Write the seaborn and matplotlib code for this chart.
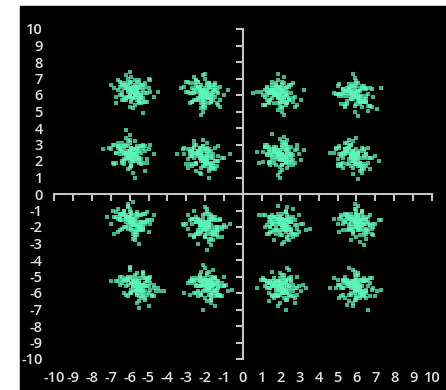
import numpy as np
import pandas as pd
import matplotlib
matplotlib.use("Agg")
import matplotlib.pyplot as plt
from matplotlib.patches import Rectangle
import seaborn as sns

# cluster centres (row by row, top to bottom)
center_x = [-5.8, -2.1, 1.85, 5.9,
            -6.0, -2.2, 1.95, 5.8,
            -5.9, -2.0, 2.05, 6.0,
            -5.6, -1.9, 1.95, 5.9]
center_y = [6.2, 6.1, 6.0, 5.95,
            2.4, 2.2, 2.35, 2.2,
            -1.7, -2.0, -1.9, -1.8,
            -5.6, -5.6, -5.7, -5.7]

# point offsets from each centre, estimated from the scatter
dx = [
    [0.1, -0.3, 0.5, -0.1, 0.2, -0.6, 0.0, 0.3, -0.2, 0.8, -0.4, 0.1,
     -0.1, 0.4, -0.7, 0.2, 0.0, -0.3, 0.6, -0.1, 0.3, -0.5, 0.1, -0.9,
     0.2, -0.2, 0.4, 0.0, -0.4, 1.1, -0.1, 0.2, -0.6, 0.3, 0.1, -0.2,
     0.5, -0.8, 0.0, 0.2, -0.3, 0.7, -0.1, 0.1, -1.2, 0.4, -0.2, 0.0,
     0.3, -0.5, 0.1, 0.9, -0.1, -0.3, 0.2, 0.6, -0.4, 0.0, 0.1, -0.7,
     0.3, -0.2, 1.3, -0.1, 0.5, -0.6, 0.2, 0.0, -0.3, 0.4, -1.0, 0.1],
    [0.3, -0.1, 0.6, -0.4, 0.0, 0.2, -0.7, 0.1, 0.4, -0.2, 0.9, -0.5,
     0.0, 0.3, -0.1, -0.9, 0.2, 0.5, -0.3, 0.1, -0.6, 0.7, 0.0, -0.2,
     0.4, -1.0, 0.1, 0.3, -0.4, 0.2, 0.8, -0.1, -0.5, 0.0, 1.1, -0.3,
     0.2, -0.1, 0.5, -0.7, 0.1, 0.3, -0.2, 0.0, 0.6, -1.2, 0.4, -0.1,
     0.2, -0.3, 0.0, 0.7, -0.6, 0.1, 0.3, -0.4, 0.9, -0.2, 0.1, 0.5,
     -0.8, 0.0, 0.2, -0.1, 1.3, -0.5, 0.4, -0.3, 0.1, 0.0, -0.2, 0.6],
    [-0.2, 0.4, 0.0, -0.6, 0.3, 0.1, -0.3, 0.8, -0.1, 0.5, -0.9, 0.2,
     0.1, -0.4, 0.6, 0.0, -0.2, 1.0, -0.5, 0.3, -0.1, 0.2, -0.7, 0.4,
     0.0, -0.3, 0.1, 0.7, -1.1, 0.2, -0.1, 0.5, 0.3, -0.6, 0.0, 0.9,
     -0.2, 0.1, -0.4, 0.6, 0.2, -0.8, 0.0, 0.3, -0.1, 1.2, -0.5, 0.1,
     0.4, -0.2, 0.0, -0.7, 0.5, 0.2, -0.3, 0.1, 0.8, -1.3, 0.3, -0.1,
     0.0, 0.6, -0.4, 0.2, -0.2, 0.4, -0.6, 0.1, 1.4, -0.3, 0.0, 0.2],
    [0.2, -0.5, 0.1, 0.6, -0.2, 0.0, 0.4, -0.8, 0.3, -0.1, 0.7, -0.3,
     0.0, 1.0, -0.6, 0.2, 0.1, -0.4, 0.5, -0.1, -0.9, 0.3, 0.0, 0.8,
     -0.2, 0.4, -0.5, 0.1, 1.2, -0.3, 0.2, 0.0, -0.7, 0.6, -0.1, 0.3,
     -1.1, 0.1, 0.5, -0.2, 0.0, 0.9, -0.4, 0.2, -0.1, 0.3, -0.6, 0.7,
     0.1, -0.3, 0.4, 0.0, -0.8, 0.2, 1.4, -0.1, 0.5, -0.2, 0.0, -0.5,
     0.3, 0.6, -0.3, 0.1, -1.0, 0.4, 0.0, -0.2, 0.8, 0.2, -0.4, 0.1],
    [0.1, 0.5, -0.3, 0.0, 0.7, -0.5, 0.2, -0.1, 0.4, -0.8, 0.3, 0.0,
     -0.2, 0.6, -1.0, 0.1, 0.3, -0.4, 0.9, -0.1, 0.2, -0.6, 0.0, 0.5,
     -1.4, 0.3, -0.2, 0.1, 0.8, -0.3, 0.0, 0.4, -0.7, 0.2, 1.1, -0.1,
     0.3, -0.5, 0.0, 0.6, -0.2, 0.1, -0.9, 0.4, 0.2, -0.4, 0.7, 0.0,
     -0.1, 1.3, -0.6, 0.2, 0.0, -0.3, 0.5, 0.1, -1.1, 0.3, -0.2, 0.8,
     0.0, -0.5, 0.2, 0.4, -0.1, -0.7, 0.1, 0.6, -0.3, 0.0, 1.0, -0.2],
    [-0.3, 0.2, 0.0, 0.6, -0.5, 0.1, 0.4, -0.2, 0.9, -0.7, 0.3, -0.1,
     0.2, 0.0, -0.4, 0.7, -1.0, 0.5, 0.1, -0.3, 0.3, -0.1, 0.8, 0.0,
     -0.6, 0.2, 0.4, -0.2, 1.1, -0.4, 0.0, 0.6, -0.8, 0.1, 0.3, -0.5,
     0.2, -0.1, 0.0, 0.5, -1.3, 0.7, 0.3, -0.2, 0.1, -0.6, 0.4, 1.2,
     0.0, -0.3, 0.2, -0.9, 0.5, 0.1, -0.1, 0.6, -0.4, 0.3, 0.0, -0.7,
     0.9, 0.2, -0.2, 0.4, -0.5, 1.5, 0.1, -0.3, 0.0, 0.3, -0.1, 0.2],
    [0.0, 0.4, -0.2, 0.1, -0.6, 0.7, 0.2, -0.4, 0.3, -0.1, 1.0, -0.8,
     0.1, -0.3, 0.5, 0.0, 0.2, -0.5, -1.1, 0.6, -0.2, 0.3, 0.1, -0.7,
     0.4, 0.0, 0.9, -0.1, -0.4, 0.2, 0.5, -0.3, 0.0, 1.3, -0.6, 0.1,
     -0.2, 0.3, -0.9, 0.4, 0.1, 0.0, -0.5, 0.7, 0.2, -0.1, 0.6, -1.2,
     0.3, -0.3, 0.0, 0.8, -0.2, 0.1, 0.4, -0.7, 0.2, -0.4, 0.5, 0.0,
     -0.1, 0.3, -0.6, 1.1, 0.1, -0.2, 0.6, 0.0, -0.3, 0.2, -0.8, 0.4],
    [0.3, -0.2, 0.1, -0.6, 0.5, 0.0, 0.8, -0.3, 0.2, -1.0, 0.4, -0.1,
     0.0, 0.6, -0.4, 0.2, 1.2, -0.7, 0.1, 0.3, -0.2, 0.0, -0.5, 0.9,
     0.4, -0.1, 0.2, -0.8, 0.0, 0.5, -0.3, 0.7, 0.1, -0.6, 0.3, -1.2,
     0.2, 0.0, 0.6, -0.4, 1.0, -0.1, 0.3, -0.2, 0.1, -0.7, 0.4, 0.0,
     -0.5, 0.8, 0.2, -0.1, -0.9, 0.5, 0.0, 0.3, -0.3, 0.1, 1.4, -0.2,
     0.6, -0.4, 0.0, 0.2, -0.6, 0.4, 0.1, -0.1, 0.7, -0.8, 0.3, 0.0],
    [0.2, -0.1, 0.5, -0.4, 0.0, 0.8, -0.6, 0.3, 0.1, -0.2, -1.1, 0.4,
     0.6, 0.0, -0.3, 0.2, -0.8, 0.1, 0.9, -0.5, 0.3, -0.1, 0.0, 0.4,
     -0.7, 1.2, 0.2, -0.2, 0.5, -0.4, 0.1, 0.0, 0.7, -1.3, 0.3, -0.1,
     0.2, -0.6, 0.4, 0.0, -0.3, 0.6, 1.0, -0.2, 0.1, -0.9, 0.3, 0.0,
     -0.5, 0.2, 0.8, -0.1, 0.4, -0.7, 0.0, 0.1, -0.4, 0.5, 0.3, -0.2,
     1.1, -0.6, 0.0, 0.2, -0.1, 0.7, -0.3, 0.4, -1.0, 0.1, 0.6, -0.2],
    [-0.1, 0.3, 0.0, -0.5, 0.6, 0.2, -0.3, 0.9, -0.7, 0.1, 0.4, -0.2,
     0.0, -1.0, 0.5, 0.2, -0.4, 0.1, 0.7, -0.1, 0.3, -0.6, 1.1, 0.0,
     -0.2, 0.4, -0.8, 0.1, 0.2, -0.3, 0.6, 0.0, -1.2, 0.3, -0.1, 0.8,
     0.5, -0.4, 0.1, 0.0, -0.6, 0.2, 0.4, -0.2, 1.3, -0.9, 0.3, 0.1,
     0.0, -0.5, 0.6, -0.1, 0.2, -0.3, 0.9, 0.4, -0.7, 0.0, 0.1, -0.2,
     0.5, -1.1, 0.3, 0.0, 0.7, -0.4, 0.2, -0.1, 0.1, 1.0, -0.6, 0.3],
    [0.4, -0.3, 0.1, 0.0, -0.6, 0.7, 0.2, -0.1, 0.5, -0.9, 0.3, -0.4,
     1.0, 0.0, -0.2, 0.6, 0.1, -0.7, 0.3, -0.1, 0.8, -0.5, 0.2, 0.0,
     -1.2, 0.4, 0.1, -0.3, 0.6, 0.2, -0.1, 1.3, -0.5, 0.0, 0.3, -0.8,
     0.1, 0.5, -0.2, 0.0, 0.9, -0.4, 0.2, -0.6, 0.4, 0.1, -1.0, 0.7,
     -0.1, 0.3, 0.0, -0.3, 0.2, 1.1, -0.7, 0.5, -0.2, 0.1, 0.0, -0.5,
     0.6, 0.3, -0.4, 0.2, -0.1, 0.8, -0.6, 0.0, 0.4, -0.2, 0.1, 1.5],
    [0.1, -0.4, 0.6, 0.0, 0.3, -0.2, -0.8, 0.5, 0.2, -0.1, 0.9, -0.5,
     0.0, 0.4, -0.3, 0.1, 1.2, -0.6, 0.2, 0.0, -0.1, 0.7, -1.0, 0.3,
     -0.2, 0.5, 0.1, -0.4, 0.0, 0.8, -0.7, 0.2, 0.4, -0.1, 0.0, -0.3,
     0.6, 1.0, -0.5, 0.1, 0.3, -0.2, 0.0, -0.9, 0.4, 0.2, -0.6, 0.7,
     -0.1, 0.1, 0.5, -0.3, 1.3, 0.0, -0.4, 0.2, -0.2, 0.3, 0.6, -0.7,
     0.0, -1.2, 0.4, 0.1, -0.1, 0.2, 0.9, -0.5, 0.3, 0.0, -0.3, 0.1],
    [-0.2, 0.3, 0.0, 0.6, -0.5, 0.1, -0.8, 0.4, 0.2, -0.1, 1.0, -0.3,
     0.0, 0.5, -0.6, 0.2, -1.1, 0.3, 0.1, 0.7, -0.2, 0.0, -0.4, 0.9,
     0.1, -0.7, 0.4, -0.1, 0.2, 1.2, -0.3, 0.0, 0.6, -0.5, -1.4, 0.3,
     0.1, -0.2, 0.8, 0.0, -0.4, 0.2, 0.5, -0.9, 0.1, -0.1, 0.3, 0.7,
     -0.6, 0.0, 0.2, -0.3, 1.1, 0.4, -0.1, 0.1, -0.8, 0.3, 0.0, -0.2,
     0.5, 0.2, -1.0, 0.6, 0.0, -0.4, 0.1, 0.9, -0.2, 0.3, -0.5, 1.4],
    [0.3, 0.0, -0.4, 0.7, -0.1, 0.2, -0.6, 0.5, 0.1, -0.3, 0.0, 0.9,
     -0.8, 0.2, 0.4, -0.2, 1.1, 0.0, -0.5, 0.3, 0.1, -1.0, 0.6, -0.1,
     0.2, 0.0, -0.3, 0.8, -0.7, 0.4, 0.1, -0.2, 0.5, 1.3, -0.4, 0.0,
     -0.1, 0.3, -0.9, 0.2, 0.6, 0.0, -0.5, 0.1, 0.4, -0.2, 1.0, -0.6,
     0.2, -0.1, 0.0, 0.7, -0.3, 0.3, -1.2, 0.1, 0.5, -0.4, 0.0, 0.2,
     -0.7, 0.9, 0.1, -0.1, 0.4, -0.3, 0.0, 0.6, -0.8, 0.2, 0.3, -0.2],
    [0.0, -0.5, 0.2, 0.6, -0.2, 0.4, -0.9, 0.1, 0.3, -0.3, 0.8, 0.0,
     -0.6, 0.2, 1.1, -0.1, 0.5, -0.4, 0.0, 0.3, -1.2, 0.7, 0.1, -0.2,
     0.4, -0.7, 0.0, 0.2, 0.9, -0.1, -0.4, 0.6, 0.1, -0.8, 0.3, 1.4,
     -0.3, 0.0, 0.5, -0.1, 0.2, -0.6, 0.4, 1.0, 0.0, -0.2, 0.1, -1.0,
     0.7, 0.3, -0.4, 0.0, 0.2, -0.1, 0.6, -0.5, 0.1, 1.2, -0.3, 0.4,
     0.0, -0.7, 0.2, 0.5, -0.2, 0.1, 0.8, -0.6, 0.0, 0.3, -0.1, 0.9],
    [-0.1, 0.4, 0.1, -0.6, 0.3, 0.0, 0.7, -0.3, 0.2, -1.0, 0.5, -0.2,
     0.0, 0.9, -0.4, 0.1, -0.7, 0.3, 0.6, -0.1, 0.2, 1.2, -0.5, 0.0,
     0.4, -0.2, -0.9, 0.1, 0.8, 0.0, -0.3, 0.5, 0.2, -0.6, 1.4, -0.1,
     0.3, 0.0, -0.4, 0.6, -1.3, 0.2, 0.1, -0.2, 0.7, 0.4, -0.5, 0.0,
     1.0, -0.1, 0.3, -0.8, 0.2, 0.0, -0.3, 0.5, 0.1, -0.6, 0.4, -0.1,
     0.8, 0.0, -0.2, 0.3, -1.1, 0.6, 0.1, -0.4, 0.2, 0.0, 1.1, -0.7],
]
dy = [
    [-0.2, 0.4, 0.1, -0.5, 0.3, 0.0, -0.1, 0.7, -0.3, 0.2, 0.5, -0.8,
     0.1, -0.2, 0.3, 0.6, -0.4, 0.0, -0.1, 0.9, -0.6, 0.2, 0.4, -0.3,
     0.0, 0.5, -0.1, -1.0, 0.2, -0.3, 0.6, 0.1, -0.2, -0.7, 0.3, 1.2,
     -0.4, 0.1, 0.2, -0.5, 0.8, -0.1, 0.0, 0.3, 0.4, -0.2, -0.9, 0.1,
     0.5, -0.3, 0.7, 0.0, -0.6, 0.2, -0.1, 0.3, 1.0, -0.4, 0.1, -0.2,
     -0.5, 0.6, 0.0, 0.2, -1.3, 0.4, -0.1, 0.3, 0.1, -0.7, 0.2, -0.3],
    [0.5, -0.1, 0.2, 0.8, -0.4, 0.1, -0.6, 0.3, 0.0, -0.2, 0.4, 1.0,
     -0.3, 0.6, -0.9, 0.1, 0.2, -0.1, 0.7, -0.5, 0.0, 0.3, -1.1, 0.2,
     -0.2, 0.4, 0.9, -0.6, 0.1, -0.3, 0.0, 0.5, 0.2, -0.8, -0.1, 0.3,
     0.6, -0.4, 0.1, 0.0, 1.2, -0.2, 0.4, -0.7, 0.2, 0.3, -0.1, -1.3,
     0.0, 0.7, -0.5, 0.1, 0.3, -0.2, 0.6, 0.8, -0.4, 0.0, -0.9, 0.2,
     0.1, -0.3, 0.5, -0.6, 0.2, 0.0, -0.1, 0.4, -0.7, 1.1, 0.3, -0.2],
    [0.3, 0.0, -0.5, 0.2, 0.7, -0.2, 0.1, -0.4, 0.6, -0.1, 0.2, -0.8,
     0.4, 0.1, -0.3, 0.9, 0.0, -0.6, 0.2, -0.1, 0.5, -1.0, 0.3, 0.0,
     -0.2, 0.8, -0.4, 0.1, 0.2, -0.7, 0.4, 0.0, 1.1, -0.3, 0.5, -0.1,
     0.1, -0.5, 0.3, -0.2, 0.6, 0.0, -0.9, 0.2, 0.7, -0.3, 0.1, 0.4,
     -0.6, 0.0, 1.3, -0.1, 0.2, -0.4, 0.3, 0.5, -0.2, 0.1, -1.2, 0.0,
     0.4, -0.3, 0.2, 0.8, -0.5, 0.1, 0.0, -0.7, 0.3, 0.6, -0.1, 0.2],
    [-0.1, 0.3, 0.6, -0.4, 0.0, 0.2, -0.7, 0.1, 0.5, -0.2, -0.9, 0.4,
     0.2, -0.1, 0.0, 0.8, -0.5, 0.3, -0.2, 0.7, 0.1, -0.3, 1.1, -0.6,
     0.4, 0.0, 0.2, -0.1, -0.8, 0.5, 0.3, -1.0, 0.1, 0.0, 0.6, -0.4,
     0.2, 0.9, -0.3, 0.1, -0.6, 0.4, 0.0, -0.2, 1.3, -0.5, 0.2, 0.1,
     -0.1, 0.7, -0.3, 0.3, 0.0, -1.2, 0.5, 0.2, -0.4, 0.6, 0.1, -0.7,
     0.0, -0.2, 0.4, 0.8, 0.1, -0.3, 0.5, 0.2, -0.6, 0.0, 0.3, -0.1],
    [0.4, -0.2, 0.1, 0.7, -0.5, 0.0, 0.3, -0.9, 0.2, 0.6, -0.1, -0.4,
     1.0, 0.1, 0.3, -0.6, 0.0, 0.2, -0.3, 0.5, -1.1, 0.4, 0.1, -0.2,
     0.3, 0.8, 0.0, -0.7, 0.2, 0.5, -0.1, 0.3, 0.1, -0.4, 0.6, 0.0,
     -1.4, 0.2, 0.9, -0.3, 0.1, 0.4, -0.5, 0.0, -0.2, 0.7, 0.3, -0.8,
     0.1, 0.0, 0.5, -0.1, 1.2, -0.6, 0.2, -0.3, 0.4, 0.0, 0.6, -1.0,
     0.2, 0.3, -0.4, -0.1, 0.8, 0.1, -0.7, 0.5, 0.0, -0.2, 0.3, 1.5],
    [0.2, -0.5, 0.6, 0.0, 0.3, -0.2, -0.8, 0.4, 0.1, -0.1, 0.9, 0.3,
     -0.4, 0.2, 0.0, -0.7, 0.5, 0.1, 1.1, -0.3, 0.0, 0.6, -0.2, -1.0,
     0.3, 0.4, -0.6, 0.1, 0.0, 0.8, -0.1, 0.2, -0.4, 0.7, -0.3, 0.1,
     0.5, -0.9, 0.3, 0.0, 0.2, -0.2, 0.6, 0.4, -0.5, 0.1, -1.2, 0.0,
     0.3, 0.8, -0.1, 0.2, -0.7, 0.0, 0.4, -0.3, 1.0, 0.1, -0.6, 0.5,
     -0.2, 0.0, 0.3, -0.4, 0.1, 0.2, 0.7, -0.8, 0.4, -0.1, 0.6, -0.3],
    [-0.3, 0.1, 0.5, -0.6, 0.2, 0.0, 0.8, -0.1, -0.4, 0.3, 0.1, 0.6,
     -0.9, 0.4, 0.0, -0.2, 1.1, 0.2, -0.5, -0.1, 0.3, 0.7, -0.3, 0.0,
     0.2, -0.7, 0.4, 0.1, 1.3, -0.2, 0.0, 0.5, -1.0, 0.3, -0.4, 0.6,
     0.1, -0.1, 0.2, 0.9, -0.6, 0.3, 0.0, -0.3, 0.4, -1.2, 0.1, 0.2,
     0.7, -0.5, 0.0, 0.3, -0.2, 0.5, -0.8, 0.1, 0.6, 0.0, -0.4, 1.0,
     0.2, -0.1, 0.4, -0.3, 0.8, -0.6, 0.1, -1.4, 0.3, 0.0, 0.5, -0.2],
    [0.1, 0.6, -0.3, 0.2, -0.7, 0.4, 0.0, 0.9, -0.1, 0.3, -0.5, 0.2,
     -1.0, 0.0, 0.5, -0.2, 0.1, 0.7, -0.4, 0.3, 1.1, -0.6, 0.2, 0.0,
     -0.3, 0.8, 0.1, -0.1, 0.4, -0.9, 0.6, 0.2, 0.0, -0.4, -1.3, 0.3,
     0.5, -0.2, 0.1, 0.9, 0.0, -0.5, 0.3, 0.7, -0.1, 0.2, -0.8, 0.4,
     0.0, -0.3, 1.2, 0.1, 0.6, -0.6, 0.2, -0.1, 0.4, 0.0, -0.2, 0.5,
     -0.7, 0.3, 1.0, -0.4, 0.1, 0.0, -0.2, 0.8, 0.2, -0.5, 0.1, 0.3],
    [0.4, 0.0, -0.2, 0.7, -0.5, 0.1, 0.3, -0.8, 0.2, 1.0, -0.1, 0.0,
     -0.4, 0.6, 0.2, -1.1, 0.3, -0.2, 0.1, 0.5, -0.6, 0.8, 0.0, -0.3,
     0.2, 0.4, -0.9, 0.1, -0.1, 0.7, 1.2, -0.4, 0.0, 0.3, -0.2, 0.6,
     -0.5, 0.1, -1.3, 0.4, 0.2, 0.0, -0.1, 0.9, -0.7, 0.3, 0.5, -0.2,
     0.1, -0.6, 0.0, 0.3, -0.3, 0.8, 0.2, -1.0, 0.4, 0.0, 0.6, -0.4,
     0.1, 0.2, 0.5, -0.8, 0.3, -0.1, 0.0, -0.5, 0.7, 0.2, -0.3, 1.1],
    [0.3, -0.4, 0.1, 0.6, 0.0, -0.7, 0.2, -0.1, 0.5, 0.9, -0.3, 0.1,
     -0.6, 0.2, 0.0, 0.4, -1.0, 0.3, -0.2, 0.7, 0.1, -0.5, 0.0, 1.2,
     0.2, -0.8, 0.4, -0.1, 0.6, 0.0, -0.3, 0.8, 0.2, -1.1, 0.1, 0.4,
     -0.2, 0.5, 0.0, -0.6, 1.0, 0.3, -0.4, 0.1, 0.2, -0.1, 0.7, -1.4,
     0.0, 0.3, -0.2, 0.5, -0.9, 0.1, 0.0, 0.6, 0.2, -0.5, 1.1, -0.3,
     0.4, 0.1, -0.7, 0.2, 0.0, -0.2, 0.8, 0.3, -0.4, 0.1, -0.6, 0.5],
    [-0.2, 0.5, 0.1, -0.6, 0.3, 0.0, 0.8, -0.4, 0.2, -0.1, 0.6, -0.9,
     0.1, 0.4, -0.3, 1.0, 0.0, 0.2, -0.7, 0.5, -0.2, 0.1, 0.3, -1.1,
     0.6, -0.1, 0.0, 0.4, -0.5, 0.9, 0.2, -0.3, 0.1, 0.7, -0.8, 0.0,
     0.3, -0.2, 1.2, 0.1, -0.4, 0.5, 0.0, -0.1, 0.2, -1.0, 0.6, 0.3,
     -0.6, 0.0, 0.4, -0.3, 0.8, 0.1, -0.5, 0.2, 0.7, -0.2, 0.0, 0.3,
     -0.7, 1.1, 0.1, -0.4, 0.5, 0.0, -0.1, 0.2, -0.9, 0.4, 0.3, -0.2],
    [0.5, 0.0, -0.3, 0.7, -0.1, 0.2, 0.4, -0.6, 0.1, 0.9, -0.2, 0.3,
     -0.8, 0.0, 0.6, -0.4, 0.2, 0.1, -1.1, 0.4, 0.3, -0.1, 0.0, 0.8,
     -0.5, 0.2, 1.1, -0.2, 0.6, -0.3, 0.0, 0.1, -0.7, 0.4, 0.3, -1.0,
     0.1, 0.0, 0.5, -0.2, 0.8, -0.6, 0.2, 0.3, 0.0, -0.4, 0.1, -0.1,
     1.2, 0.4, -0.9, 0.0, 0.2, 0.6, -0.3, 0.1, -0.5, 0.7, 0.0, 0.2,
     -0.2, 0.3, -1.3, 0.5, 0.1, -0.7, 0.0, 0.4, -0.1, 0.9, 0.2, -0.4],
    [0.1, -0.5, 0.3, 0.0, 0.6, -0.2, 0.4, -0.8, 0.1, 0.7, -0.3, 0.2,
     -1.0, 0.5, 0.0, -0.1, 0.3, 0.9, -0.6, 0.2, 0.0, -0.4, 1.1, 0.1,
     -0.2, 0.4, -0.7, 0.6, 0.0, -0.3, 0.2, 0.8, -1.2, 0.1, 0.3, -0.1,
     0.5, 0.0, -0.6, 0.2, 1.0, -0.3, 0.4, 0.1, -0.9, 0.0, 0.7, -0.2,
     0.3, -0.5, 0.1, 0.6, -0.1, 0.0, 0.4, -1.3, 0.2, 0.8, -0.4, 0.1,
     0.0, -0.7, 0.3, 0.5, -0.2, 1.2, 0.0, -0.1, 0.2, -0.6, 0.4, -0.3],
    [-0.4, 0.2, 0.6, 0.0, -0.7, 0.3, 0.1, -0.2, 0.9, -0.5, 0.4, 0.0,
     0.2, -1.0, 0.5, 0.1, -0.3, 0.7, 0.0, -0.6, 0.3, 0.2, -0.1, 1.1,
     -0.8, 0.4, 0.0, 0.2, -0.4, 0.6, -0.1, 1.3, 0.3, -0.2, 0.0, -0.9,
     0.5, 0.1, 0.3, -0.5, 0.0, 0.8, -0.3, 0.2, -1.2, 0.4, 0.1, 0.0,
     0.6, -0.2, 0.3, -0.6, 0.1, 1.0, -0.4, 0.0, 0.2, 0.7, -0.1, -0.8,
     0.3, 0.0, -0.5, 0.4, 0.1, 0.9, -0.3, 0.2, 0.5, -0.7, 0.0, -1.4],
    [0.2, 0.0, -0.6, 0.4, 0.1, -0.3, 0.5, 0.8, -0.1, 0.2, -0.9, 0.3,
     0.0, 0.6, -0.2, -0.5, 0.1, 1.0, 0.4, -0.7, 0.0, 0.2, -0.1, -0.4,
     1.2, 0.3, -0.2, 0.5, 0.0, -1.1, 0.2, 0.7, -0.3, 0.1, 0.4, 0.0,
     -0.6, 0.9, 0.2, -0.1, 0.3, -0.8, 0.0, 0.1, 0.6, -0.4, 0.2, 0.5,
     -0.2, -1.3, 0.1, 0.4, 0.8, -0.5, 0.0, 0.3, -0.1, 0.2, 0.6, -0.7,
     0.1, 0.0, -0.3, 1.1, 0.4, -0.2, 0.0, 0.3, -0.9, 0.5, 0.1, -0.4],
    [0.3, -0.2, 0.7, 0.0, -0.5, 0.4, 0.1, -0.8, 0.2, 0.0, 0.6, -0.3,
     1.0, -0.1, 0.3, -0.6, 0.2, 0.0, 0.5, -1.1, 0.1, -0.2, 0.4, 0.8,
     -0.4, 0.0, 0.2, -0.7, 0.6, 0.1, 1.2, -0.3, 0.0, 0.4, -0.1, -0.9,
     0.2, 0.5, 0.1, -0.2, 0.0, 0.9, -0.5, 0.3, -1.3, 0.1, 0.7, -0.1,
     0.0, 0.4, -0.6, 0.2, 0.8, -0.3, 0.1, -0.4, 0.5, 0.0, -0.2, 1.1,
     0.3, -0.7, 0.1, 0.0, 0.6, -0.1, 0.2, -1.0, 0.4, 0.3, -0.5, 0.0],
]

# more points for each cluster, filling in the diagonals of the clouds
extra_dx = [
    [0.4, -0.5, 0.3, -0.2, 0.6, -0.3, 0.1, -0.1, 0.5, -0.6, 0.2, -0.4,
     0.3, 0.7, -0.7, 0.0, -0.2, 0.4, -0.1, 0.2, -0.5, 0.9, -0.3, 0.1,
     -0.4, 0.2, 0.5, -0.8, 0.1, -0.2, 0.3, 0.0, -0.6, 0.4, 0.2, -0.1,
     0.6, -0.3, 0.0, 0.8, -0.5, 0.1, -0.2, 0.3, -0.9, 0.4, 0.0, -0.1],
    [-0.3, 0.5, 0.2, -0.6, 0.4, -0.1, 0.0, 0.3, -0.4, 0.7, -0.2, 0.1,
     0.6, -0.5, 0.1, -0.3, 0.2, -0.8, 0.4, 0.0, -0.1, 0.5, -0.6, 0.3,
     0.1, -0.2, 0.8, -0.4, 0.0, 0.3, -0.7, 0.2, -0.1, 0.5, -0.3, 0.9,
     -0.5, 0.2, 0.0, -0.2, 0.6, -0.4, 0.1, 0.3, -0.9, 0.0, 0.4, -0.1],
    [0.5, -0.4, 0.1, 0.3, -0.2, 0.6, -0.6, 0.0, 0.2, -0.3, 0.4, -0.1,
     -0.7, 0.3, 0.0, 0.5, -0.5, 0.1, 0.8, -0.2, 0.2, -0.4, 0.1, -0.8,
     0.4, 0.0, -0.3, 0.6, -0.1, 0.3, -0.5, 0.2, 0.9, -0.6, 0.1, -0.2,
     0.0, 0.4, -0.4, 0.2, -0.1, 0.7, -0.3, 0.0, 0.5, -0.7, 0.1, -0.2],
    [-0.4, 0.3, 0.6, -0.1, 0.2, -0.5, 0.0, 0.4, -0.3, 0.1, 0.7, -0.6,
     0.2, -0.2, 0.5, -0.8, 0.1, 0.3, -0.4, 0.0, 0.6, -0.1, 0.4, -0.7,
     0.0, 0.5, -0.2, 0.3, -0.5, 0.8, 0.1, -0.3, 0.2, -0.1, 0.4, -0.6,
     0.9, -0.4, 0.0, 0.2, -0.2, 0.5, 0.1, -0.9, 0.3, -0.1, 0.6, 0.0],
    [0.3, -0.6, 0.1, 0.5, -0.3, 0.0, -0.1, 0.4, -0.5, 0.2, 0.7, -0.2,
     -0.4, 0.1, 0.6, -0.7, 0.3, 0.0, -0.2, 0.5, 0.2, -0.9, 0.4, -0.1,
     0.1, -0.4, 0.8, 0.0, -0.3, 0.3, -0.6, 0.2, 0.5, -0.1, 0.0, -0.5,
     0.6, 0.2, -0.3, 0.1, -0.8, 0.4, 0.0, -0.2, 0.9, -0.4, 0.2, 0.1],
    [0.2, -0.4, 0.5, -0.1, 0.0, 0.6, -0.6, 0.3, -0.2, 0.4, -0.5, 0.1,
     0.7, -0.3, 0.0, 0.2, -0.7, 0.4, 0.1, -0.1, 0.5, -0.4, 0.3, -0.9,
     0.0, 0.6, -0.2, 0.1, -0.5, 0.3, 0.8, -0.3, 0.2, -0.1, 0.4, -0.6,
     0.1, 0.0, -0.4, 0.5, -0.2, 0.9, -0.5, 0.3, 0.0, -0.3, 0.2, 0.6],
    [-0.5, 0.2, 0.4, -0.3, 0.0, 0.6, -0.1, 0.3, -0.6, 0.1, 0.5, -0.2,
     0.0, -0.4, 0.7, 0.2, -0.8, 0.3, -0.1, 0.4, 0.1, -0.5, 0.0, 0.6,
     -0.3, 0.8, 0.2, -0.2, 0.4, -0.7, 0.1, 0.0, 0.5, -0.4, 0.3, -0.1,
     0.2, -0.6, 0.9, 0.0, -0.2, 0.3, -0.9, 0.1, 0.4, -0.3, 0.6, -0.1],
    [0.4, -0.2, -0.5, 0.1, 0.6, -0.3, 0.0, 0.3, -0.6, 0.2, -0.1, 0.5,
     -0.4, 0.7, 0.1, -0.2, 0.3, -0.7, 0.0, 0.4, -0.3, 0.8, 0.2, -0.5,
     0.1, -0.1, 0.5, -0.8, 0.3, 0.0, -0.4, 0.6, -0.2, 0.2, 0.9, -0.6,
     0.0, 0.3, -0.3, 0.1, -0.5, 0.4, 0.2, -0.1, 0.6, -0.9, 0.0, 0.3],
    [-0.2, 0.5, 0.1, -0.6, 0.3, 0.0, 0.4, -0.4, 0.2, -0.1, 0.7, -0.5,
     0.0, 0.3, -0.3, 0.6, -0.7, 0.1, 0.4, -0.2, 0.2, -0.6, 0.8, 0.0,
     -0.4, 0.1, 0.5, -0.1, -0.3, 0.3, 0.0, -0.8, 0.6, 0.2, -0.5, 0.1,
     0.4, -0.2, 0.0, 0.9, -0.3, 0.2, -0.6, 0.1, 0.5, -0.1, 0.3, -0.9],
    [0.3, -0.3, 0.0, 0.5, -0.6, 0.2, -0.1, 0.4, -0.4, 0.1, 0.6, -0.2,
     -0.5, 0.0, 0.3, -0.7, 0.2, 0.7, -0.1, 0.1, -0.3, 0.4, -0.8, 0.5,
     0.0, -0.2, 0.8, -0.4, 0.1, 0.3, -0.6, 0.0, 0.2, -0.1, 0.5, -0.5,
     0.9, -0.3, 0.1, 0.0, -0.2, 0.4, -0.9, 0.3, 0.6, -0.4, 0.2, -0.1],
    [-0.4, 0.2, 0.5, -0.1, 0.0, -0.6, 0.3, 0.1, -0.3, 0.6, -0.2, 0.4,
     0.7, -0.5, 0.0, 0.2, -0.1, -0.7, 0.4, 0.3, -0.4, 0.1, 0.8, -0.2,
     0.0, -0.5, 0.2, 0.5, -0.8, 0.1, 0.3, -0.3, 0.6, 0.0, -0.1, 0.4,
     -0.6, 0.2, 0.9, -0.2, 0.1, -0.4, 0.0, 0.5, -0.9, 0.3, -0.1, 0.2],
    [0.2, 0.5, -0.3, -0.6, 0.1, 0.4, 0.0, -0.2, 0.6, -0.4, 0.3, -0.1,
     0.0, -0.5, 0.7, 0.2, -0.3, 0.1, -0.7, 0.4, 0.5, -0.2, 0.0, 0.8,
     -0.1, 0.3, -0.5, 0.2, 0.6, -0.8, 0.1, -0.4, 0.0, 0.4, -0.2, 0.3,
     -0.6, 0.9, 0.1, -0.1, 0.5, -0.3, 0.2, -0.9, 0.0, 0.3, -0.5, 0.1],
    [0.4, -0.3, 0.1, -0.5, 0.6, 0.0, -0.2, 0.3, -0.6, 0.2, 0.5, -0.1,
     -0.4, 0.7, 0.1, -0.7, 0.3, 0.0, 0.4, -0.2, -0.5, 0.2, 0.8, -0.3,
     0.0, 0.5, -0.1, -0.8, 0.2, 0.3, -0.4, 0.6, 0.1, -0.6, 0.0, 0.4,
     -0.2, 0.9, -0.3, 0.2, -0.9, 0.1, 0.5, -0.1, 0.3, -0.5, 0.0, 0.6],
    [-0.3, 0.4, 0.0, 0.5, -0.6, 0.2, -0.1, 0.3, 0.6, -0.4, 0.1, -0.2,
     0.7, -0.5, 0.0, 0.2, -0.3, 0.4, -0.8, 0.1, 0.5, -0.1, 0.3, -0.6,
     0.0, 0.8, -0.4, 0.2, -0.2, 0.1, 0.6, -0.7, 0.3, 0.0, -0.3, 0.4,
     0.1, -0.5, 0.9, -0.1, 0.2, -0.9, 0.5, 0.0, -0.4, 0.3, 0.2, -0.2],
    [0.3, -0.5, 0.1, 0.4, -0.2, 0.6, -0.3, 0.0, 0.5, -0.6, 0.2, -0.1,
     0.0, 0.7, -0.4, 0.1, -0.7, 0.3, 0.4, -0.2, 0.2, -0.3, 0.8, -0.5,
     0.1, 0.0, -0.8, 0.5, 0.3, -0.1, 0.6, -0.4, 0.2, 0.0, -0.2, 0.4,
     -0.6, 0.1, 0.3, 0.9, -0.3, 0.0, 0.5, -0.9, 0.2, -0.1, 0.4, 0.1],
    [-0.2, 0.4, -0.5, 0.1, 0.3, -0.3, 0.6, 0.0, -0.6, 0.2, 0.5, -0.1,
     0.1, -0.4, 0.7, 0.3, -0.2, 0.0, -0.7, 0.4, 0.2, -0.5, 0.1, 0.8,
     -0.3, 0.5, 0.0, -0.1, 0.6, -0.8, 0.2, 0.3, -0.4, 0.1, 0.0, -0.6,
     0.4, 0.9, -0.2, 0.2, -0.3, 0.5, -0.9, 0.1, 0.0, 0.3, -0.1, 0.6],
]
extra_dy = [
    [0.3, 0.4, -0.4, -0.2, 0.5, -0.3, 0.1, 0.2, -0.6, 0.5, -0.1, -0.4,
     0.2, -0.6, 0.6, 0.1, -0.3, -0.4, 0.0, 0.2, -0.5, 0.7, 0.3, -0.1,
     -0.5, 0.1, 0.4, 0.7, -0.2, 0.2, -0.3, 0.0, -0.5, 0.4, -0.2, 0.1,
     -0.6, -0.3, 0.1, 0.8, 0.4, -0.1, -0.2, 0.3, -0.7, -0.4, 0.0, 0.1],
    [0.4, 0.4, -0.2, -0.5, -0.3, 0.1, 0.2, -0.3, 0.5, -0.6, 0.2, 0.0,
     0.5, 0.6, -0.1, -0.4, 0.1, 0.7, -0.5, 0.1, -0.2, -0.4, -0.5, 0.3,
     0.0, 0.2, -0.7, 0.3, -0.1, 0.4, 0.6, -0.2, 0.0, 0.5, -0.3, -0.8,
     -0.4, -0.1, 0.2, 0.3, 0.6, -0.4, -0.1, -0.2, 0.7, 0.1, -0.5, 0.0],
    [-0.4, -0.3, 0.2, 0.4, 0.1, 0.5, 0.5, -0.1, -0.3, -0.2, 0.4, 0.0,
     -0.6, -0.4, 0.1, 0.5, -0.4, -0.2, 0.7, 0.2, -0.1, 0.3, 0.0, -0.6,
     -0.5, 0.2, 0.4, 0.6, 0.1, -0.2, -0.5, 0.3, -0.7, 0.4, -0.1, 0.2,
     0.0, -0.4, -0.3, 0.1, 0.2, 0.6, 0.3, -0.1, -0.5, -0.6, 0.0, 0.3],
    [0.5, -0.4, 0.4, 0.2, -0.1, -0.5, 0.1, -0.3, 0.3, 0.0, -0.6, 0.4,
     0.3, -0.2, 0.6, 0.7, 0.1, -0.2, -0.5, 0.2, -0.4, 0.0, 0.4, -0.5,
     0.1, 0.5, 0.3, -0.3, -0.6, 0.5, -0.1, 0.2, -0.3, 0.0, 0.6, 0.4,
     -0.7, -0.3, 0.2, 0.1, -0.2, -0.4, 0.0, 0.6, 0.3, 0.1, 0.5, -0.1],
    [-0.4, 0.5, 0.2, -0.4, -0.3, 0.1, 0.2, 0.5, 0.4, -0.1, 0.6, -0.3,
     0.5, 0.0, -0.6, -0.5, 0.2, -0.1, -0.2, 0.4, 0.3, 0.6, -0.3, 0.0,
     -0.2, -0.4, 0.5, 0.2, 0.3, -0.3, 0.7, 0.0, -0.5, -0.2, 0.1, 0.4,
     0.5, -0.1, -0.4, 0.2, -0.6, 0.4, -0.2, 0.1, -0.5, -0.5, 0.3, 0.0],
    [0.5, 0.3, -0.4, 0.1, -0.2, -0.5, 0.4, 0.4, 0.2, -0.3, -0.5, 0.0,
     0.6, -0.3, 0.2, -0.2, -0.6, 0.5, 0.1, 0.0, 0.4, -0.4, -0.3, 0.6,
     0.1, -0.6, 0.3, -0.1, 0.5, 0.2, -0.5, -0.4, 0.0, 0.2, 0.3, -0.4,
     -0.2, 0.1, 0.6, -0.5, 0.3, 0.7, 0.4, -0.2, 0.0, 0.3, -0.1, -0.6],
    [-0.4, -0.3, 0.5, 0.2, 0.1, -0.4, 0.1, -0.5, 0.5, 0.0, 0.3, 0.3,
     -0.2, 0.4, -0.6, -0.1, 0.5, 0.4, 0.2, -0.3, 0.0, -0.6, 0.2, 0.5,
     0.3, -0.5, -0.2, -0.1, 0.4, 0.6, 0.1, -0.2, -0.6, -0.3, 0.3, 0.0,
     -0.1, -0.5, 0.6, 0.2, 0.3, -0.4, -0.4, 0.1, 0.5, 0.2, -0.3, 0.0],
    [0.4, 0.3, -0.3, -0.2, 0.5, 0.4, 0.1, -0.4, -0.4, 0.2, 0.0, -0.5,
     0.5, -0.5, 0.3, -0.1, 0.2, 0.6, -0.2, -0.3, -0.4, 0.6, 0.0, 0.3,
     -0.2, 0.1, 0.6, -0.4, -0.5, 0.2, 0.2, 0.4, -0.3, 0.0, -0.7, -0.5,
     0.3, 0.1, 0.5, -0.1, -0.6, -0.3, 0.2, 0.1, -0.4, 0.5, 0.0, 0.2],
    [0.3, -0.4, 0.2, 0.5, 0.4, -0.1, -0.4, -0.3, 0.1, 0.2, 0.5, 0.4,
     0.1, -0.3, 0.4, -0.5, -0.6, 0.0, 0.4, -0.2, -0.1, -0.5, 0.6, 0.2,
     0.5, -0.1, -0.5, 0.0, -0.3, 0.3, 0.1, 0.6, 0.5, -0.2, -0.4, 0.2,
     -0.4, 0.3, 0.0, -0.6, 0.3, 0.1, 0.5, -0.2, 0.4, 0.0, -0.2, -0.7],
    [0.4, 0.3, -0.2, -0.4, 0.5, 0.1, 0.2, -0.5, -0.3, 0.0, 0.4, -0.2,
     -0.4, 0.1, -0.3, 0.5, 0.2, -0.6, -0.1, 0.3, 0.4, 0.5, -0.5, -0.3,
     0.2, 0.1, 0.5, 0.4, -0.2, -0.1, -0.6, 0.0, 0.3, 0.2, 0.6, 0.3,
     -0.6, -0.4, 0.1, -0.1, 0.2, -0.3, 0.7, 0.4, -0.5, -0.4, 0.0, 0.1],
    [-0.3, 0.3, -0.4, 0.2, 0.1, 0.5, 0.4, -0.2, -0.5, -0.5, 0.1, 0.3,
     -0.5, -0.4, 0.0, -0.2, 0.3, 0.5, 0.5, -0.3, 0.2, 0.0, -0.6, 0.4,
     -0.1, 0.6, -0.3, 0.4, -0.5, 0.2, -0.2, -0.1, 0.5, 0.1, 0.3, -0.6,
     -0.4, -0.1, 0.6, 0.2, 0.0, 0.5, -0.3, -0.3, 0.6, 0.2, 0.1, -0.1],
    [0.2, -0.4, 0.4, 0.5, -0.2, 0.4, 0.1, -0.3, -0.5, -0.3, 0.3, 0.0,
     0.2, 0.5, 0.5, -0.1, -0.4, 0.1, -0.4, -0.5, 0.3, 0.2, -0.2, -0.6,
     0.1, 0.5, -0.4, -0.3, 0.4, 0.5, 0.0, 0.3, -0.1, -0.3, -0.2, 0.2,
     0.6, -0.7, 0.2, 0.1, -0.4, 0.4, -0.2, -0.5, 0.0, -0.1, 0.6, 0.3],
    [-0.3, -0.4, 0.3, 0.4, 0.4, 0.2, -0.3, 0.5, 0.5, -0.1, -0.5, 0.0,
     -0.4, 0.6, -0.2, -0.4, 0.1, -0.2, 0.5, 0.3, 0.4, -0.3, -0.5, -0.2,
     0.1, 0.3, -0.2, 0.6, -0.4, 0.1, 0.5, -0.4, 0.2, -0.5, 0.0, 0.2,
     0.3, -0.6, -0.4, 0.1, 0.6, -0.1, 0.4, 0.2, -0.3, -0.6, 0.1, 0.5],
    [0.5, -0.3, 0.2, -0.4, -0.4, 0.3, 0.1, 0.5, 0.3, 0.4, -0.2, -0.3,
     -0.5, -0.6, 0.1, 0.0, 0.3, 0.5, 0.4, -0.1, -0.5, 0.2, -0.3, 0.5,
     0.0, -0.6, -0.4, 0.1, 0.3, -0.2, -0.5, 0.4, 0.2, 0.1, -0.5, -0.2,
     0.4, 0.4, 0.6, 0.0, -0.1, -0.5, -0.6, 0.2, 0.3, 0.3, -0.4, 0.1],
    [0.4, 0.4, -0.2, -0.3, -0.5, 0.5, 0.3, 0.2, -0.4, -0.3, 0.1, 0.4,
     -0.1, -0.5, -0.5, 0.2, 0.4, 0.3, 0.5, -0.2, -0.3, 0.1, -0.6, 0.4,
     0.0, -0.4, 0.5, 0.6, -0.2, 0.2, -0.5, -0.4, 0.3, 0.1, 0.0, -0.6,
     0.3, -0.3, 0.5, 0.7, 0.4, 0.1, -0.2, 0.6, -0.1, 0.3, 0.2, 0.0],
    [0.4, -0.4, 0.3, 0.2, 0.5, -0.4, -0.3, 0.1, 0.5, -0.2, 0.4, 0.3,
     -0.2, 0.5, 0.5, -0.3, -0.4, 0.2, -0.5, 0.4, 0.0, -0.6, 0.1, -0.5,
     0.3, 0.4, -0.2, 0.0, -0.6, -0.6, 0.3, -0.3, 0.4, 0.1, 0.2, -0.4,
     0.5, 0.6, 0.2, -0.1, 0.3, -0.5, 0.5, 0.0, -0.1, -0.2, 0.3, 0.4],
]

ticks = list(range(-10, 11))

rows = []
for i in range(len(center_x)):
    ox = dx[i] + extra_dx[i]
    oy = dy[i] + extra_dy[i]
    assert len(ox) == len(oy), i
    for a, b in zip(ox, oy):
        rows.append((center_x[i] + a, center_y[i] + b))
df = pd.DataFrame(rows, columns=["x", "y"])

plt.rcParams["font.family"] = ["Open Sans", "DejaVu Sans"]
plt.rcParams["axes.unicode_minus"] = False

W, H = 446, 390
fig = plt.figure(figsize=(W / 100, H / 100), dpi=100)
fig.patch.set_facecolor("white")
# black panel with a thin white margin on the left and top
fig.add_artist(Rectangle((20 / W, 0), 1, 384 / H, transform=fig.transFigure,
                         color="black", zorder=0))

rect = [54 / W, 31 / H, 378 / W, 330 / H]

# axes for the tick labels along the outer edges
ax = fig.add_axes(rect)
ax.set_facecolor("none")
ax.set_xlim(-10, 10)
ax.set_ylim(-10, 10)
ax.set_xticks(ticks)
ax.set_yticks(ticks)
ax.tick_params(length=0, colors="#e2e2e2", labelsize=10.5)
ax.tick_params(axis="x", pad=9)
ax.tick_params(axis="y", pad=8)
for lbl in ax.get_xticklabels() + ax.get_yticklabels():
    lbl.set_fontweight("semibold")
for s in ax.spines.values():
    s.set_visible(False)

# axes crossing through the origin
ax2 = fig.add_axes(rect, sharex=ax, sharey=ax)
ax2.set_facecolor("none")
sns.scatterplot(data=df, x="x", y="y", ax=ax2, color="#5cf5ba", marker="s",
                s=7, linewidth=0, alpha=0.75)
ax2.set_xlim(-10, 10)
ax2.set_ylim(-10, 10)
ax2.set_xlabel("")
ax2.set_ylabel("")
for side in ["top", "right"]:
    ax2.spines[side].set_visible(False)
for side in ["left", "bottom"]:
    ax2.spines[side].set_position(("data", 0))
    ax2.spines[side].set_color("#c4c4c4")
    ax2.spines[side].set_linewidth(1.5)
ax2.tick_params(direction="out", length=5, width=1.5, color="#c4c4c4",
                labelbottom=False, labelleft=False)

fig.savefig("out.png", dpi=100, facecolor=fig.get_facecolor())
